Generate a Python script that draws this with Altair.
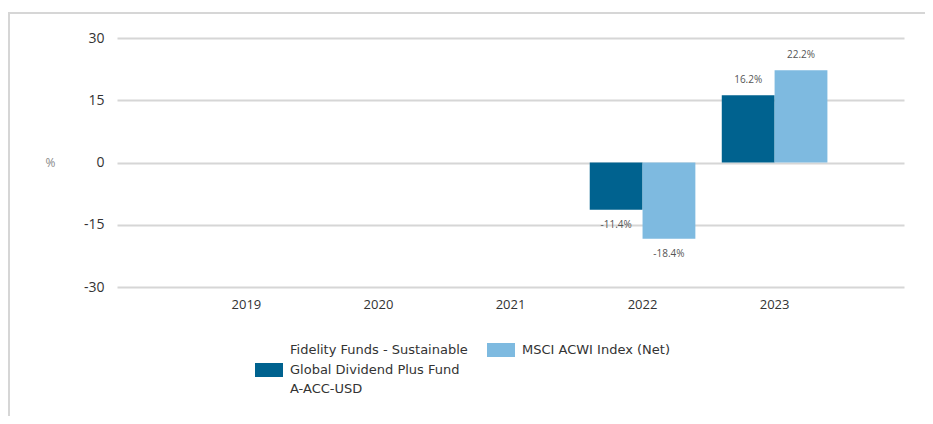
import altair as alt
import pandas as pd

years = ["2019", "2020", "2021", "2022", "2023"]
series = [
    "Fidelity Funds - Sustainable Global Dividend Plus Fund A-ACC-USD",
    "MSCI ACWI Index (Net)",
]
fund_returns = [None, None, None, -11.4, 16.2]
index_returns = [None, None, None, -18.4, 22.2]
y_ticks = [-30, -15, 0, 15, 30]
colors = ["#00628F", "#7EBAE0"]
fund_label_lines = ["Fidelity Funds - Sustainable", "Global Dividend Plus Fund", "A-ACC-USD"]
index_label_lines = ["MSCI ACWI Index (Net)"]

rows = []
for i, yr in enumerate(years):
    for s, vals in zip(series, [fund_returns, index_returns]):
        if vals[i] is not None:
            rows.append({"year": yr, "series": s, "value": vals[i],
                         "label": f"{vals[i]:.1f}%"})
df = pd.DataFrame(rows)

W, H = 787, 249
FONT = "Open Sans"
LEGEND_FONT = "DejaVu Sans"
x_enc = alt.X(
    "year:N",
    scale=alt.Scale(domain=years, paddingInner=0.2, paddingOuter=0.58),
    axis=alt.Axis(title=None, labelAngle=0, domain=False, ticks=False, grid=False,
                  labelPadding=11, labelFontSize=13, labelColor="#333333",
                  labelFont=FONT),
)
xoff = alt.XOffset("series:N", scale=alt.Scale(domain=series, paddingInner=0, paddingOuter=0))
y_enc = alt.Y(
    "value:Q",
    scale=alt.Scale(domain=[-30, 30], nice=False, zero=False),
    axis=alt.Axis(values=y_ticks, title="%", titleAngle=0, titleX=-67, titleY=124.5,
                  titleBaseline="middle", titleAlign="center", titleFontWeight="normal",
                  titleFontSize=12, titleColor="#8a8a8a", titleFont=FONT,
                  domain=False, ticks=False, labelPadding=13, labelFontSize=14,
                  labelColor="#333333", labelFont=FONT,
                  labelExpr="'' + datum.value",
                  gridColor="#d6d6d6", gridWidth=2),
)

bars = alt.Chart(df).mark_bar().encode(
    x=x_enc,
    xOffset=xoff,
    y=y_enc,
    color=alt.Color("series:N", scale=alt.Scale(domain=series, range=colors), legend=None),
)

pos_text = alt.Chart(df).transform_filter("datum.value >= 0").mark_text(
    baseline="alphabetic", dy=-12, fontSize=10, color="#555555", font=FONT
).encode(x=x_enc, xOffset=xoff, y=y_enc, text="label:N")

neg_text = alt.Chart(df).transform_filter("datum.value < 0").mark_text(
    baseline="top", dy=10, fontSize=10, color="#555555", font=FONT
).encode(x=x_enc, xOffset=xoff, y=y_enc, text="label:N")

frame = alt.Data(values=[{"k": 1}])
border = "#d6d6d6"
top_line = alt.Chart(frame).mark_rule(color=border, strokeWidth=2).encode(
    x=alt.value(-110), x2=alt.value(830), y=alt.value(-25)
)
left_line = alt.Chart(frame).mark_rule(color=border, strokeWidth=2).encode(
    x=alt.value(-108), y=alt.value(-25), y2=alt.value(400)
)

# legend (drawn as marks so the multi-line label layout matches)
sym1 = alt.Chart(frame).mark_rect(color=colors[0]).encode(
    x=alt.value(138), x2=alt.value(166), y=alt.value(325), y2=alt.value(339))
txt1 = alt.Chart(frame).mark_text(
    text=fund_label_lines, align="left", baseline="middle", lineHeight=19.5,
    fontSize=13, font=LEGEND_FONT, color="#333333"
).encode(x=alt.value(173), y=alt.value(312))
sym2 = alt.Chart(frame).mark_rect(color=colors[1]).encode(
    x=alt.value(370), x2=alt.value(398), y=alt.value(305), y2=alt.value(319))
txt2 = alt.Chart(frame).mark_text(
    text=index_label_lines, align="left", baseline="middle", lineHeight=19.5,
    fontSize=13, font=LEGEND_FONT, color="#333333"
).encode(x=alt.value(405), y=alt.value(312))

chart = alt.layer(top_line, left_line, bars, pos_text, neg_text,
                  sym1, txt1, sym2, txt2).properties(
    width=W, height=H,
    autosize=alt.AutoSizeParams(type="none"),
    padding={"left": 109, "top": 30, "right": 21, "bottom": 129},
).configure_view(stroke=None)

chart.save("out.html", embed_options={"renderer": "svg", "actions": False})
